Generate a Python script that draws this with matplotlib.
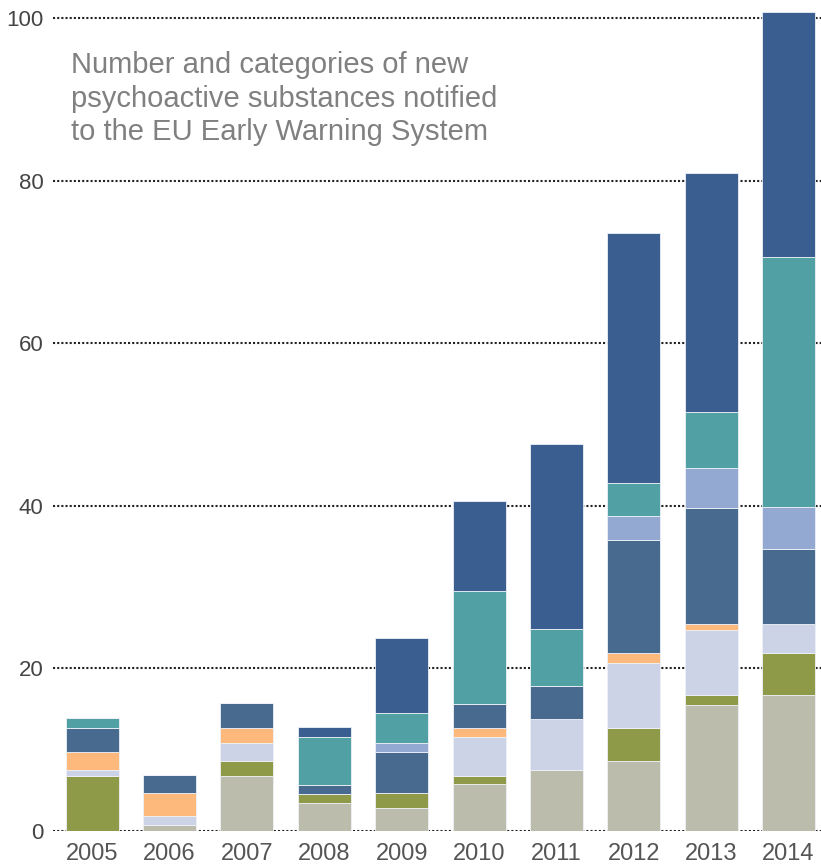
import matplotlib
matplotlib.use("Agg")
import matplotlib.pyplot as plt
import numpy as np

years = ["2005", "2006", "2007", "2008", "2009", "2010", "2011", "2012", "2013", "2014"]

# stacked from bottom to top
beige     = [0.0, 0.7, 6.8, 3.4, 2.8, 5.75, 7.55, 8.6, 15.55, 16.7]
olive     = [6.75, 0.0, 1.8, 1.2, 1.85, 1.05, 0.0, 4.1, 1.15, 5.15]
lavender  = [0.75, 1.1, 2.2, 0.0, 0.0, 4.75, 6.25, 8.0, 8.05, 3.65]
orange    = [2.25, 2.9, 1.9, 0.0, 0.0, 1.15, 0.0, 1.15, 0.7, 0.0]
steel     = [2.95, 2.2, 3.0, 1.1, 5.1, 2.9, 4.05, 13.9, 14.3, 9.2]
lightblue = [0.0, 0.0, 0.0, 0.0, 1.05, 0.0, 0.0, 3.0, 4.85, 5.1]
teal      = [1.15, 0.0, 0.0, 5.9, 3.7, 13.9, 6.95, 4.0, 6.9, 30.8]
darkblue  = [0.0, 0.0, 0.0, 1.2, 9.2, 11.1, 22.8, 30.85, 29.4, 30.1]

series = [beige, olive, lavender, orange, steel, lightblue, teal, darkblue]
colors = ["#bbbcab", "#8e9a48", "#cdd3e6", "#fdb97b",
          "#486a8e", "#93a9d1", "#51a0a3", "#3a5e8f"]

yticks = [0, 20, 40, 60, 80, 100]
title = "Number and categories of new\npsychoactive substances notified\nto the EU Early Warning System"

plt.rcParams['font.family'] = ['Liberation Sans', 'DejaVu Sans']

W, H = 821, 867
fig = plt.figure(figsize=(W / 100, H / 100), dpi=100)

# axes placement in pixels
x0, x1 = 53, 821
y_zero = 831
px_per_unit = 8.13
ytop = 102
ax = fig.add_axes([x0 / W, (H - y_zero) / H, (x1 - x0) / W, ytop * px_per_unit / H])

x = np.arange(len(years))
bottom = np.zeros(len(years))
for vals, c in zip(series, colors):
    vals = np.array(vals)
    ax.bar(x, vals, width=0.685, bottom=bottom, color=c,
           edgecolor="#eef1f7", linewidth=0.6, zorder=3)
    bottom += vals

ax.set_xlim(-0.507, 9.42)
ax.set_ylim(0, ytop)
ax.set_yticks(yticks)
ax.set_yticklabels([str(t) for t in yticks], fontsize=16, color="#444444")
ax.set_xticks(x)
ax.set_xticklabels(years, fontsize=17, color="#555555")
ax.tick_params(axis="both", length=0)
ax.tick_params(axis="y", pad=7)
ax.tick_params(axis="x", pad=9)

for t in yticks:
    ax.axhline(t, color="#222222", linestyle=(0, (1, 1)), linewidth=1.5, zorder=1)

for s in ax.spines.values():
    s.set_visible(False)

fig.text(71 / W, 1 - 51 / H, title, fontsize=21, color="#808080",
         va="top", ha="left", linespacing=1.26)

fig.savefig("out.png", dpi=100)
